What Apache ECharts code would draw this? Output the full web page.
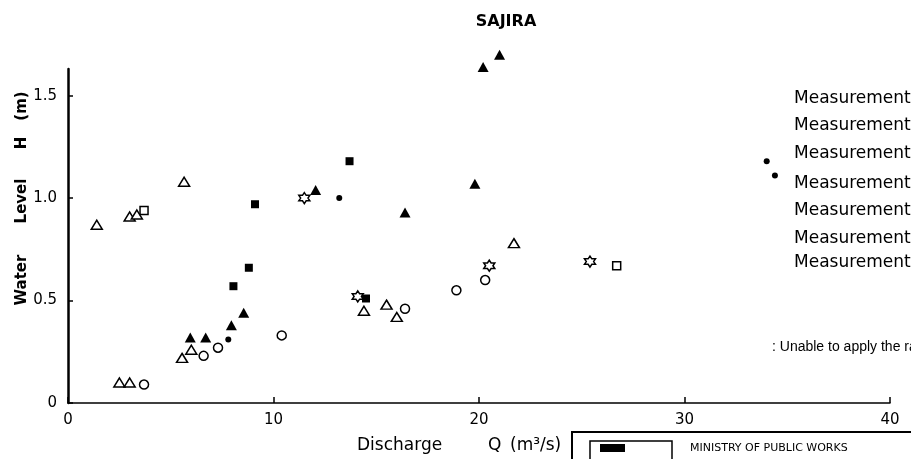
<!DOCTYPE html>
<html><head><meta charset="utf-8">
<script src="https://cdn.jsdelivr.net/npm/echarts@6/dist/echarts.min.js"></script>
<style>html,body{margin:0;padding:0;background:#fff}#c{width:911px;height:459px}</style>
</head><body><div id="c"></div>
<script>
// ---- data ----
const chartTitle = 'SAJIRA';
const xTickValues = [0, 10, 20, 30, 40];
const yTickValues = [0, 0.5, 1.0, 1.5];
const openTriangle = [[1.4,0.87],[3.0,0.91],[3.35,0.92],[5.65,1.08],[2.5,0.1],[3.0,0.1],[5.55,0.22],[6.0,0.26],[14.4,0.45],[15.5,0.48],[16.0,0.42],[21.7,0.78]];
const openCircle = [[3.7,0.09],[6.6,0.23],[7.3,0.27],[10.4,0.33],[16.4,0.46],[18.9,0.55],[20.3,0.6]];
const filledTriangle = [[5.95,0.32],[6.7,0.32],[7.95,0.38],[8.55,0.44],[12.05,1.04],[16.4,0.93],[19.8,1.07],[20.2,1.64],[21.0,1.70]];
const filledCircle = [[7.8,0.31],[13.2,1.0],[34.0,1.18],[34.4,1.11]];
const filledSquare = [[8.05,0.57],[8.8,0.66],[9.1,0.97],[13.7,1.18],[14.5,0.51]];
const openSquare = [[3.7,0.94],[26.7,0.67]];
const hexagram = [[11.5,1.0],[14.1,0.52],[20.5,0.67],[25.4,0.69]];
const legendLabels = ['Measurement','Measurement','Measurement','Measurement','Measurement','Measurement','Measurement'];
const noteText = ': Unable to apply the rating curve';
const yNameParts = ['Water','Level','H','(m)'];
const xNameParts = ['Discharge','Q','(m³/s)'];
const boxText = 'MINISTRY OF PUBLIC WORKS';

// ---- render ----
const font = 'DejaVu Sans';
const starPath = 'path://M0,-100 L28.9,-50 L86.6,-50 L57.7,0 L86.6,50 L28.9,50 L0,100 L-28.9,50 L-86.6,50 L-57.7,0 L-86.6,-50 L-28.9,-50 Z';
const openStyle = {color:'#fff', borderColor:'#000', borderWidth:1.5, opacity:1};
const fillStyle = {color:'#000', opacity:1};
function s(name, data, symbol, size, style){
  return {type:'scatter', name, data, symbol, symbolSize:size, itemStyle:style, clip:false, z:3, animation:false, emphasis:{disabled:true}};
}
const chart = echarts.init(document.getElementById('c'), null, {renderer:'canvas'});
const legendY = [100,127,155,185,212,240,264];
const graphics = [];
legendLabels.forEach((t,i)=>graphics.push({type:'text', left:794, top:legendY[i]-10, style:{text:t, font:'17px '+font, fill:'#000'}}));
graphics.push({type:'text', left:772, top:340, style:{text:noteText, font:'14px "Liberation Sans"', fill:'#000'}});
const yNameY = [280,201,143,106];
yNameParts.forEach((t,i)=>graphics.push({type:'text', x:22, y:yNameY[i], rotation:Math.PI/2, style:{text:t, font:'bold 15px '+font, fill:'#000', align:'center', verticalAlign:'middle'}}));
const xNameX = [357,488,510];
xNameParts.forEach((t,i)=>graphics.push({type:'text', left:xNameX[i], top:437, style:{text:t, font:'17px '+font, fill:'#000'}}));
graphics.push({type:'rect', shape:{x:572,y:432,width:360,height:40}, style:{fill:'none', stroke:'#000', lineWidth:2}});
graphics.push({type:'rect', shape:{x:590,y:441,width:82,height:30}, style:{fill:'none', stroke:'#000', lineWidth:1.5}});
graphics.push({type:'rect', shape:{x:600,y:444,width:25,height:8}, style:{fill:'#000'}});
graphics.push({type:'text', left:690, top:443, style:{text:boxText, font:'11px '+font, fill:'#000'}});

chart.setOption({
  backgroundColor:'#fff',
  animation:false,
  title:{text:chartTitle, left:501, top:9, textAlign:'center', textStyle:{fontFamily:font, fontSize:16, fontWeight:'bold', color:'#000'}},
  grid:{left:68, right:21, top:69, bottom:56},
  xAxis:{type:'value', min:0, max:40, interval:10,
    axisLine:{lineStyle:{color:'#000', width:1.5}},
    axisTick:{inside:true, length:6, lineStyle:{color:'#000', width:1.5}},
    axisLabel:{color:'#000', fontFamily:font, fontSize:15, margin:10, formatter:v=>xTickValues.includes(v)?String(v):''},
    splitLine:{show:false}},
  yAxis:{type:'value', min:0, max:1.63, interval:0.5,
    axisLine:{show:true, lineStyle:{color:'#000', width:2.5}},
    axisTick:{show:true, inside:true, length:5, lineStyle:{color:'#000', width:1.5}},
    axisLabel:{color:'#000', fontFamily:font, fontSize:15, margin:11, showMaxLabel:false,
      formatter:v=>yTickValues.includes(v)?(v===0?'0':v.toFixed(1)):''},
    splitLine:{show:false}},
  series:[
    s('openTriangle', openTriangle, 'triangle', [11,9], openStyle),
    s('openCircle', openCircle, 'circle', 9, openStyle),
    s('filledTriangle', filledTriangle, 'triangle', [11,10], fillStyle),
    s('filledCircle', filledCircle, 'circle', 6, fillStyle),
    s('filledSquare', filledSquare, 'rect', 8, fillStyle),
    s('openSquare', openSquare, 'rect', 8, openStyle),
    s('hexagram', hexagram, starPath, 11, openStyle)
  ],
  graphic:graphics
});
</script></body></html>
